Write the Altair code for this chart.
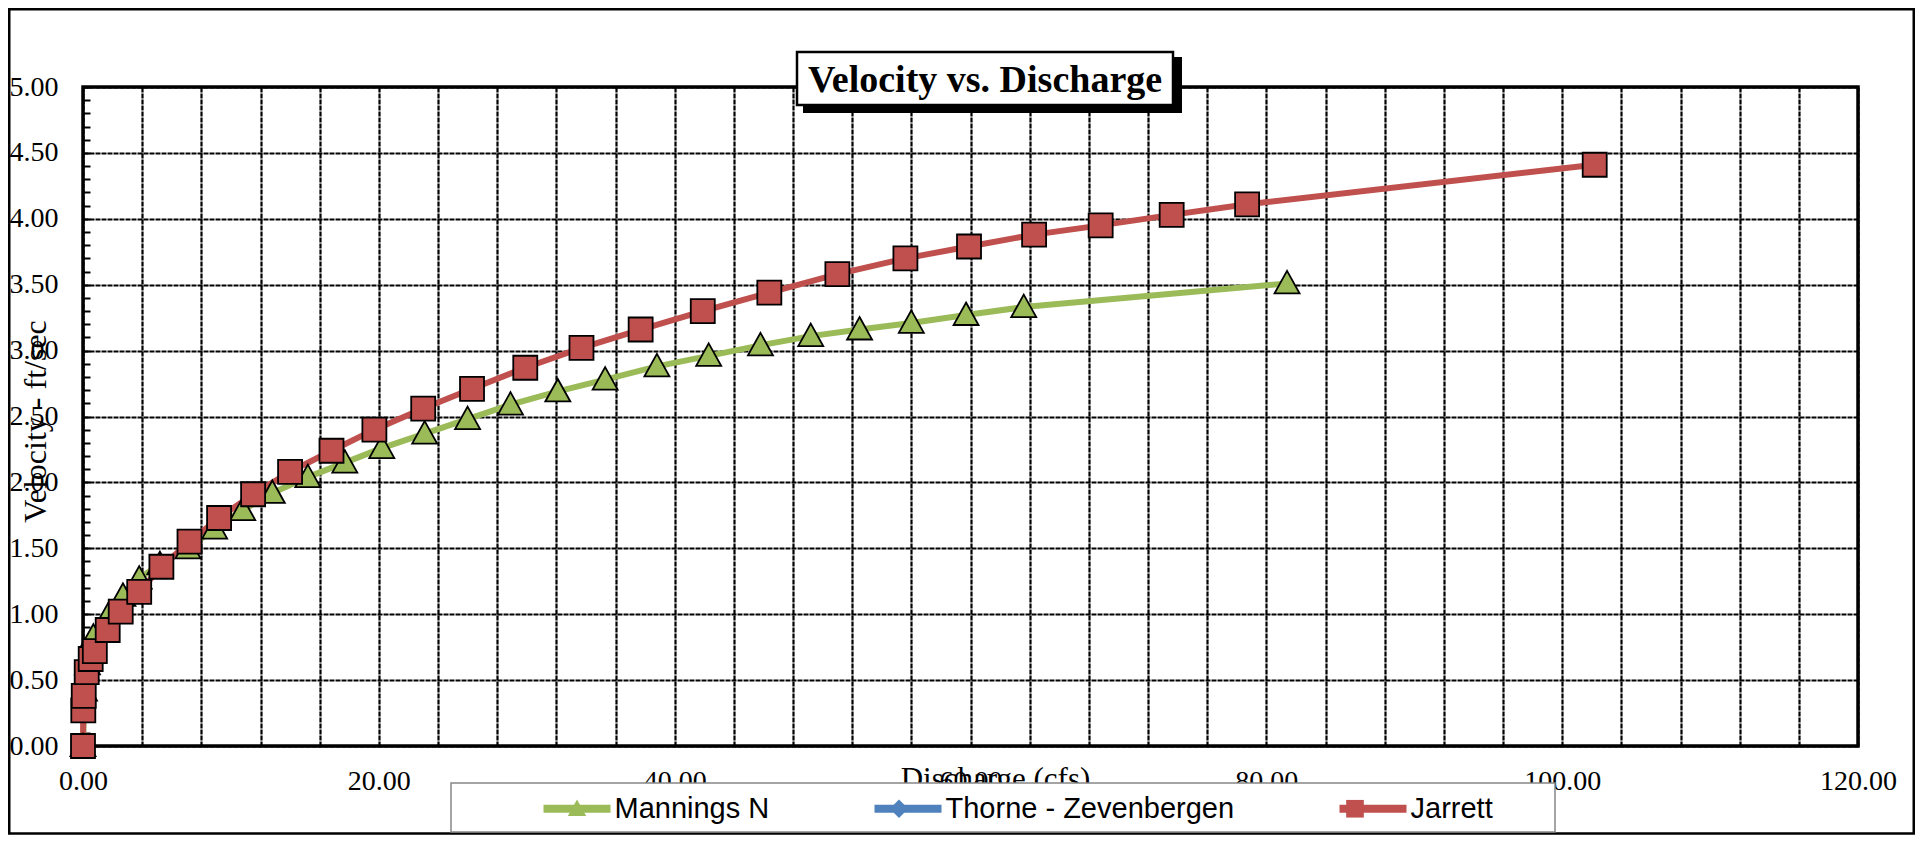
import altair as alt
import pandas as pd

# ---------------- data ----------------
series_names = ["Mannings N", "Thorne - Zevenbergen", "Jarrett"]
series_colors = ["#9BBB59", "#4F81BD", "#C0504D"]

mannings_q = [0, 0.1, 0.3, 0.7, 1.8, 2.7, 3.8, 5.2, 7.1, 8.9, 10.8, 12.8, 15.2, 17.7,
              20.2, 23.1, 26.0, 28.9, 32.1, 35.3, 38.8, 42.3, 45.8, 49.2, 52.5, 56.0,
              59.7, 63.6, 81.4]
mannings_v = [0, 0.42, 0.62, 0.83, 1.01, 1.14, 1.27, 1.38, 1.50, 1.65, 1.79, 1.92, 2.04,
              2.15, 2.26, 2.37, 2.48, 2.59, 2.69, 2.78, 2.88, 2.96, 3.04, 3.11, 3.16,
              3.21, 3.27, 3.33, 3.51]

thorne_q = []
thorne_v = []

jarrett_q = [0, 0.02, 0.05, 0.25, 0.52, 0.8, 1.67, 2.55, 3.8, 5.3, 7.2, 9.2, 11.5, 14.0,
             16.8, 19.7, 23.0, 26.3, 29.9, 33.7, 37.7, 41.9, 46.4, 51.0, 55.6, 59.9,
             64.3, 68.8, 73.6, 78.7, 102.2]
jarrett_v = [0, 0.27, 0.38, 0.56, 0.66, 0.72, 0.88, 1.02, 1.17, 1.36, 1.55, 1.73, 1.91,
             2.08, 2.24, 2.40, 2.56, 2.71, 2.87, 3.02, 3.16, 3.30, 3.44, 3.58, 3.70,
             3.79, 3.88, 3.95, 4.03, 4.11, 4.41]

x_grid_values = list(range(0, 121, 4))
y_major_values = [0, 0.5, 1.0, 1.5, 2.0, 2.5, 3.0, 3.5, 4.0, 4.5, 5.0]
y_minor_values = [round(i * 0.1, 1) for i in range(51)]

chart_title = "Velocity vs. Discharge"
x_title = "Discharge (cfs)"
y_title = "Velocity - ft/sec"

rows = []
for name, qs, vs in [(series_names[0], mannings_q, mannings_v),
                     (series_names[1], thorne_q, thorne_v),
                     (series_names[2], jarrett_q, jarrett_v)]:
    for q, v in zip(qs, vs):
        rows.append({"Series": name, "Q": q, "V": v})
df = pd.DataFrame(rows)
decor = pd.DataFrame({"k": [0]})

# marker shapes (the leading moveTo's only widen the legend symbol bounds)
SQ = "M-1,0M1,0M-0.24,-0.24L0.24,-0.24L0.24,0.24L-0.24,0.24Z"
TRI = "M-1,0M1,0M0,-0.25L0.25,0.2L-0.25,0.2Z"
DIA = "M-1,0M1,0M0,-0.25L0.25,0L0,0.25L-0.25,0Z"
shape_range = [TRI, DIA, SQ]
series_names_p = [s + " " for s in series_names]

SERIF = "Liberation Serif"
SANS = "Liberation Sans"

x_axis = alt.Axis(values=x_grid_values,
                  labelExpr="datum.value % 20 === 0 ? format(datum.value, '.2f') : ''",
                  labelFlush=False, labelOverlap=False, labelPadding=21,
                  ticks=False, tickSize=0, domain=False,
                  grid=True, gridColor="#000000", gridDash=[5, 1], gridWidth=2.2,
                  labelFont=SERIF, labelFontSize=28, labelColor="#000000",
                  title=x_title, titleFont=SERIF, titleFontSize=31, titleFontWeight="normal",
                  titleColor="#000000", titleX=912, titleY=42, titleAlign="center",
                  titleBaseline="alphabetic", titleAnchor="start")
x_enc = alt.X("Q:Q", scale=alt.Scale(domain=[0, 120], nice=False, zero=False), axis=x_axis)

y_axis_main = alt.Axis(values=y_major_values, format=".2f", orient="left",
                       labelPadding=25, ticks=False, tickSize=0, domain=False,
                       grid=True, gridColor="#000000", gridDash=[5, 1], gridWidth=2.2,
                       labelFont=SERIF, labelFontSize=28, labelColor="#000000",
                       labelFlush=False, labelOverlap=False,
                       title=y_title, titleFont=SERIF, titleFontSize=32,
                       titleFontWeight="normal", titleColor="#000000",
                       titleAngle=270, titleX=-38, titleY=334, titleAlign="center",
                       titleBaseline="alphabetic", titleAnchor="start")
y_axis_minor = alt.Axis(values=y_minor_values, orient="left", offset=-7,
                        labels=False, domain=False, grid=False, ticks=True,
                        tickSize=7, tickWidth=2, tickColor="#000000", title=None)
y_scale = alt.Scale(domain=[0, 5], nice=False, zero=False)

legend_common = dict(orient="none", legendX=456.5, legendY=684, direction="horizontal",
                     title=None, padding=0, labelFont=SANS, labelFontSize=29,
                     labelColor="#000000", labelOffset=0, labelLimit=600,
                     columnPadding=89)

lines = alt.Chart(df).mark_line(strokeWidth=6).encode(
    x=x_enc,
    y=alt.Y("V:Q", scale=y_scale, axis=y_axis_main),
    color=alt.Color("Series:N",
                    scale=alt.Scale(domain=series_names, range=series_colors),
                    legend=alt.Legend(symbolType="stroke", symbolSize=4489,
                                      symbolStrokeWidth=8, **legend_common)),
    order="Q:Q",
)

legend_b = dict(symbolSize=5402.25, symbolStrokeWidth=1.5,
                symbolStrokeColor="#000000", symbolOpacity=1,
                labelOpacity=0, labelExpr="trim(datum.label)", **legend_common)

points = alt.Chart(df).transform_calculate(SeriesP="datum.Series + ' '").mark_point(
    filled=True, size=10000, stroke="#000000", strokeWidth=1.8, opacity=1
).encode(
    x=x_enc,
    y=alt.Y("V:Q", scale=y_scale, axis=y_axis_minor),
    fill=alt.Fill("SeriesP:N",
                  scale=alt.Scale(domain=series_names_p, range=series_colors),
                  legend=alt.Legend(**legend_b)),
    shape=alt.Shape("SeriesP:N",
                    scale=alt.Scale(domain=series_names_p, range=shape_range),
                    legend=alt.Legend(**legend_b)),
)

outer = alt.Chart(decor).mark_rect(fill="#ffffff", fillOpacity=0, stroke="#000000",
                                   strokeWidth=2.5).encode(
    x=alt.value(-73.75), x2=alt.value(1830.75), y=alt.value(-77.75), y2=alt.value(746.5))

legend_box = alt.Chart(decor).mark_rect(fill="#ffffff", stroke="#868686",
                                        strokeWidth=1.5).encode(
    x=alt.value(368), x2=alt.value(1472), y=alt.value(696), y2=alt.value(745))

title_shadow = alt.Chart(decor).mark_rect(fill="#000000").encode(
    x=alt.value(720), x2=alt.value(1099), y=alt.value(-30), y2=alt.value(26))
title_box = alt.Chart(decor).mark_rect(fill="#ffffff", stroke="#000000",
                                       strokeWidth=2.5).encode(
    x=alt.value(714), x2=alt.value(1090), y=alt.value(-35), y2=alt.value(18))
title_text = alt.Chart(decor).mark_text(font=SERIF, fontSize=38, fontWeight="bold",
                                        align="center", baseline="alphabetic",
                                        color="#000000").encode(
    x=alt.value(902), y=alt.value(5), text=alt.value(chart_title))

chart = alt.layer(
    outer, lines, points, legend_box, title_shadow, title_box, title_text
).resolve_axis(y="independent").properties(
    width=1775, height=659,
    padding={"left": 75, "top": 79, "right": 57, "bottom": 89},
    autosize=alt.AutoSizeParams(type="none"),
    background="#ffffff",
).configure_view(stroke="#000000", strokeWidth=3.5)

chart.save("out.html", embed_options={"renderer": "svg", "actions": False})
